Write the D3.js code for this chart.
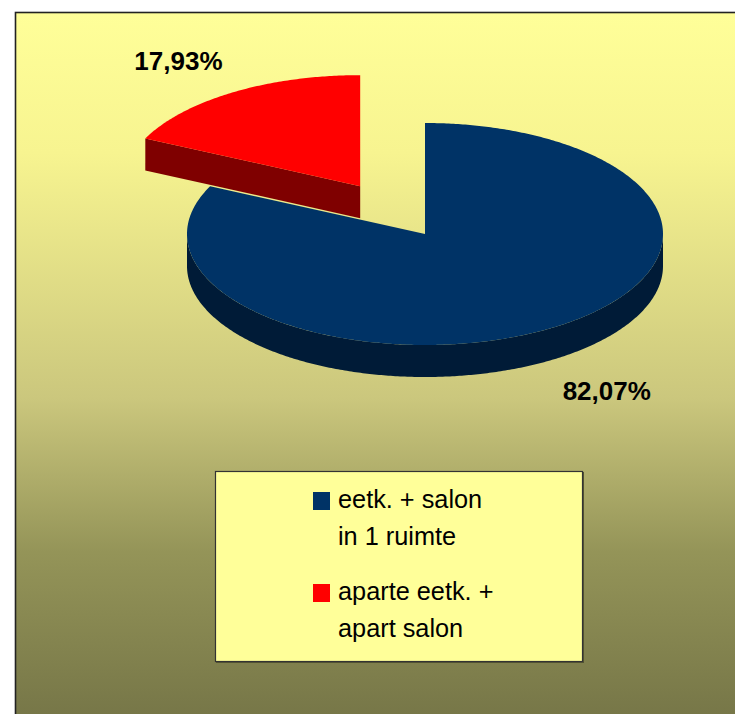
<!DOCTYPE html>
<html>
<head>
<meta charset="utf-8">
<script src="https://cdn.jsdelivr.net/npm/d3@7"></script>
<style>
  html, body { margin: 0; padding: 0; background: #fff; }
  svg { display: block; }
</style>
</head>
<body>
<div id="chart"></div>
<script>
// Slices, in drawing order (clockwise from 12 o'clock)
const categories = ["eetk. + salon in 1 ruimte", "aparte eetk. + apart salon"];
const shares = [82.07, 17.93];
const valueLabels = ["82,07%", "17,93%"];
const legendLines = [["eetk. + salon", "in 1 ruimte"], ["aparte eetk. +", "apart salon"]];
const topColors = ["#003366", "#ff0000"];
const sideColors = ["#001b37", "#7f0000"];
const exploded = [false, true];

const W = 735, H = 714;
const font = "'Liberation Sans', Arial, sans-serif";

const svg = d3.select("#chart").append("svg")
    .attr("width", W)
    .attr("height", H);

// Background gradient of the chart area (runs past the bottom edge)
const defs = svg.append("defs");
const grad = defs.append("linearGradient")
    .attr("id", "bg")
    .attr("gradientUnits", "userSpaceOnUse")
    .attr("x1", 0).attr("y1", 12).attr("x2", 0).attr("y2", H);
[[0, "#ffff99"], [0.2, "#f7f490"], [0.55, "#cbc77d"], [0.77, "#949458"], [1, "#777748"]]
    .forEach(([o, c]) => grad.append("stop").attr("offset", o).attr("stop-color", c));

svg.append("rect")
    .attr("x", 15.5).attr("y", 12.5)
    .attr("width", W + 20).attr("height", H + 20)
    .attr("fill", "url(#bg)")
    .attr("stroke", "#222")
    .attr("stroke-width", 1.6);

// 3D pie geometry
const cx = 425, cy = 234, rx = 238, ry = 111, depth = 32, explode = 0.51;

const pie = d3.pie().sort(null).value(d => d);
const arcs = pie(shares);

const pt = (ox, oy, a, dy = 0) => [ox + rx * Math.sin(a), oy - ry * Math.cos(a) + dy];

function arcPoints(ox, oy, a0, a1, dy = 0) {
    const n = Math.max(2, Math.ceil(Math.abs(a1 - a0) / 0.01));
    return d3.range(n + 1).map(i => pt(ox, oy, a0 + (a1 - a0) * i / n, dy));
}

const line = d3.line();
const g = svg.append("g");

arcs.forEach((d, i) => {
    const mid = (d.startAngle + d.endAngle) / 2;
    const k = exploded[i] ? explode : 0;
    const ox = cx + k * rx * Math.sin(mid);
    const oy = cy - k * ry * Math.cos(mid);
    const a0 = d.startAngle, a1 = d.endAngle;

    // outer side, front half only
    const s0 = Math.max(a0, Math.PI / 2), s1 = Math.min(a1, 3 * Math.PI / 2);
    if (s1 > s0) {
        const topEdge = arcPoints(ox, oy, s0, s1);
        const botEdge = arcPoints(ox, oy, s1, s0, depth);
        g.append("path")
            .attr("d", line(topEdge.concat(botEdge)) + "Z")
            .attr("fill", sideColors[i]);
    }

    // radial cut faces that face the viewer
    [[a0, Math.sin(a0) < -1e-6], [a1, Math.sin(a1) > 1e-6]].forEach(([a, vis]) => {
        if (!vis) return;
        const p = pt(ox, oy, a);
        g.append("path")
            .attr("d", line([[ox, oy], p, [p[0], p[1] + depth], [ox, oy + depth]]) + "Z")
            .attr("fill", sideColors[i]);
    });

    // top face
    g.append("path")
        .attr("d", line([[ox, oy]].concat(arcPoints(ox, oy, a0, a1))) + "Z")
        .attr("fill", topColors[i]);

    // percentage label outside the slice
    const front = Math.cos(mid) < 0;
    g.append("text")
        .attr("x", ox + rx * Math.sin(mid) * 1.43)
        .attr("y", oy - ry * Math.cos(mid) * 1.33 + (front ? depth : 0))
        .attr("text-anchor", "middle")
        .attr("dominant-baseline", "central")
        .style("font-family", font)
        .style("font-size", "26px")
        .style("font-weight", "bold")
        .style("fill", "#000")
        .text(valueLabels[i]);
});

// Legend
const legend = svg.append("g");
legend.append("rect")
    .attr("x", 216).attr("y", 472)
    .attr("width", 368).attr("height", 191)
    .attr("fill", "#555533");
legend.append("rect")
    .attr("x", 215.5).attr("y", 471.5)
    .attr("width", 367).attr("height", 190)
    .attr("fill", "#ffff99")
    .attr("stroke", "#333")
    .attr("stroke-width", 1.2);

const lineGap = 37, itemGap = 92;
categories.forEach((c, i) => {
    const base = 508 + i * itemGap;
    legend.append("rect")
        .attr("x", 313).attr("y", base - 16)
        .attr("width", 17).attr("height", 18)
        .attr("fill", topColors[i]);
    legendLines[i].forEach((t, j) => {
        legend.append("text")
            .attr("x", 338)
            .attr("y", base + j * lineGap)
            .style("font-family", font)
            .style("font-size", "25.3px")
            .style("fill", "#000")
            .text(t);
    });
});
</script>
</body>
</html>
